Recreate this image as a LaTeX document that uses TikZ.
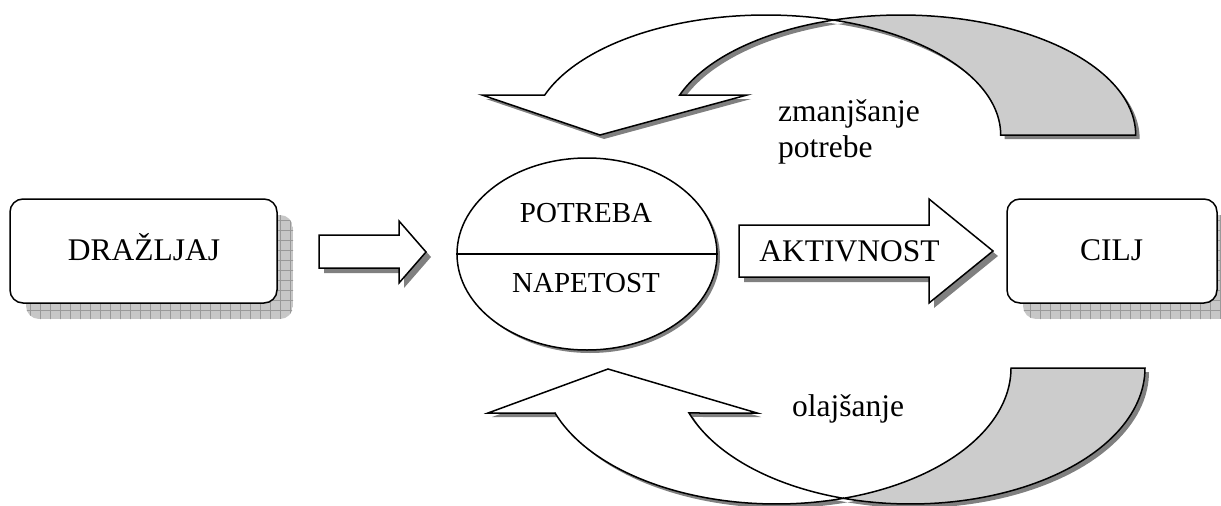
\documentclass[tikz,border=0pt]{standalone}
\usepackage{fontspec}
\setmainfont{Liberation Serif}
\usetikzlibrary{shapes.geometric}
\begin{document}
\begin{tikzpicture}[x=1pt,y=-1pt,
  outl/.style={draw=black,line width=1.5pt,line join=miter},
  shad/.style={fill=black!50,draw=none},
  band/.style={outl,fill=black!20},
  front/.style={outl,fill=white},
  boxshape/.style={outl,fill=white,rounded corners=13pt,inner sep=0pt,minimum height=104pt},
  big/.style={inner sep=0pt,font=\fontsize{31.5}{36}\selectfont},
  mid/.style={inner sep=0pt,font=\fontsize{29}{34}\selectfont}]
\useasboundingbox (0,0) rectangle (1221,506);
\def\TWhite{(544.7,95) -- plot[domain=160.53:73.29,samples=60] ({766+234.7*cos(\x)},{135-120*sin(\x)}) -- plot[domain=106.71:160.53,samples=60] ({901+234.7*cos(\x)},{135-120*sin(\x)}) -- (747,95) -- (600,135) -- (482,95) -- cycle}
\def\TGray{(833.5,20.1) -- plot[domain=106.71:0,samples=60] ({901+234.7*cos(\x)},{135-120*sin(\x)}) -- (1000.7,135) -- plot[domain=0:73.29,samples=60] ({766+234.7*cos(\x)},{135-120*sin(\x)}) -- cycle}
\def\BWhite{(555,413) -- plot[domain=160.68:73.4,samples=60] ({776.4+234.6*cos(\x)},{368+136*sin(\x)}) -- plot[domain=106.6:160.68,samples=60] ({910.4+234.6*cos(\x)},{368+136*sin(\x)}) -- (757,413) -- (608,369) -- (488,413) -- cycle}
\def\BGray{(843.4,498.3) -- plot[domain=106.6:0,samples=60] ({910.4+234.6*cos(\x)},{368+136*sin(\x)}) -- (1011,368) -- plot[domain=0:73.4,samples=60] ({776.4+234.6*cos(\x)},{368+136*sin(\x)}) -- cycle}
% box shadows (grid pattern)
\begin{scope}
\clip[rounded corners=13pt] (26,215) rectangle (293,319);
\fill[black!22] (26,215) rectangle (293,319);
\draw[black!40,line width=0.8pt,step=10pt] (20,210) grid (300,320);
\end{scope}
\begin{scope}
\clip[rounded corners=13pt] (1023,215) rectangle (1233,319);
\fill[black!22] (1023,215) rectangle (1233,319);
\draw[black!40,line width=0.8pt,step=10pt] (1020,210) grid (1240,320);
\end{scope}
% boxes
\node[boxshape,minimum width=267pt] (drz) at (143.5,251) {};
\node[big,anchor=base] (drzt) at (144,260) {DRAŽLJAJ};
\node[boxshape,minimum width=210pt] (cilj) at (1112,251) {};
\node[big,anchor=base] (ciljt) at (1111.5,260) {CILJ};
% small arrow
\path[shad,shift={(5,5)}] (319,235) -- (399,235) -- (399,221) -- (426,252) -- (399,283) -- (399,268) -- (319,268) -- cycle;
\path[front] (319,235) -- (399,235) -- (399,221) -- (426,252) -- (399,283) -- (399,268) -- (319,268) -- cycle;
% activity arrow
\path[shad,shift={(5,5)}] (739,225) -- (929,225) -- (929,199) -- (993,251) -- (929,303) -- (929,277) -- (739,277) -- cycle;
\path[front] (739,225) -- (929,225) -- (929,199) -- (993,251) -- (929,303) -- (929,277) -- (739,277) -- cycle;
\node[big,anchor=base] (akt) at (849.5,261) {AKTIVNOST};
% ellipse
\node[ellipse,shad,minimum width=260pt,minimum height=192pt,inner sep=0pt] (ellsh) at (590,257) {};
\node[ellipse,outl,fill=white,minimum width=260pt,minimum height=192pt,inner sep=0pt] (ell) at (587,254) {};
\draw[outl] (ell.west) -- (ell.east);
\node[mid,anchor=base] (pot) at (586,222) {POTREBA};
\node[mid,anchor=base] (nap) at (586,292) {NAPETOST};
% top curved arrow
\begin{scope}[shift={(4,4)}]
\path[shad] \TWhite;
\path[shad] \TGray;
\end{scope}
\path[band] \TGray;
\path[front] \TWhite;
% bottom curved arrow
\begin{scope}[shift={(4,4)}]
\path[shad] \BWhite;
\path[shad] \BGray;
\end{scope}
\path[band] \BGray;
\path[front] \BWhite;
% labels
\node[big,anchor=base west] (zm1) at (778,121) {zmanjšanje};
\node[big,anchor=base west] (zm2) at (778,157) {potrebe};
\node[big,anchor=base west] (ola) at (792,416) {olajšanje};
\end{tikzpicture}
\end{document}
